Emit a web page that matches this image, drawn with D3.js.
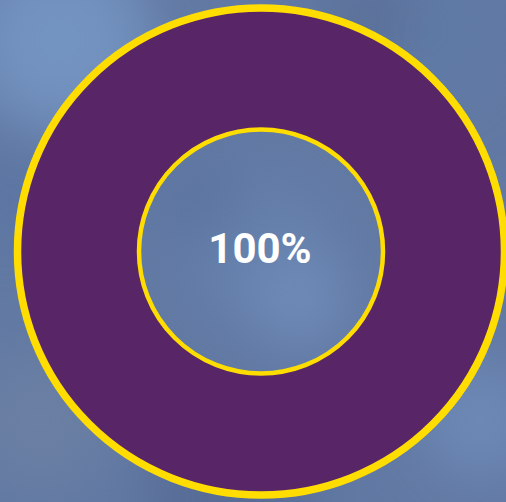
<html>
<head>
<script src="https://cdnjs.cloudflare.com/ajax/libs/d3/7.8.5/d3.min.js"></script>
<style>
  body { margin: 0; overflow: hidden; }
</style>
</head>
<body>
<svg id="chart" width="506" height="502"></svg>
<script>

	// single series, one slice
	var labels = ["Complete"]
	var values = [100]
	var centerLabel = "100%"

	var W = 506, H = 502
	var cx = 261, cy = 251.5
	var outerR = 247, innerR = 122

	var svg = d3.select("#chart")
	var defs = svg.append("defs")

	// blurred blue backdrop
	defs.append("filter").attr("id", "blur")
	  .attr("x", "-50%").attr("y", "-50%").attr("width", "200%").attr("height", "200%")
	  .append("feGaussianBlur").attr("stdDeviation", 28)

	svg.append("rect").attr("width", W).attr("height", H).attr("fill", "#6179a3")
	var bg = svg.append("g").attr("filter", "url(#blur)")
	var blobs = [
		[60, 40, 90, "#7393c0"],
		[10, 200, 50, "#5b76a3"],
		[420, 30, 80, "#5f7aa6"],
		[370, 20, 40, "#5a6e96"],
		[40, 420, 70, "#6a7fa3"],
		[230, 490, 80, "#566c96"],
		[480, 420, 60, "#6d88b6"],
		[260, 250, 80, "#6580ab"],
		[300, 300, 50, "#6e8ab7"],
		[200, 200, 40, "#5c75a0"]
	]
	blobs.forEach(function(b) {
		bg.append("circle").attr("cx", b[0]).attr("cy", b[1]).attr("r", b[2]).attr("fill", b[3])
	})

	var pie = d3.pie().sort(null)
	var arc = d3.arc().innerRadius(innerR).outerRadius(outerR - 3)

	var g = svg.append("g").attr("transform", "translate(" + cx + "," + cy + ")")

	g.selectAll("path.slice")
	  .data(pie(values))
	  .enter().append("path")
	  .attr("class", "slice")
	  .attr("d", arc)
	  .attr("fill", "#582566")

	// yellow rims
	g.append("circle").attr("r", outerR - 3.5)
	  .attr("fill", "none").attr("stroke", "#ffdd00").attr("stroke-width", 7.5)
	g.append("circle").attr("r", innerR)
	  .attr("fill", "none").attr("stroke", "#ffdd00").attr("stroke-width", 4.5)

	g.append("text")
	  .attr("x", -1)
	  .attr("y", 11)
	  .attr("text-anchor", "middle")
	  .attr("fill", "#ffffff")
	  .attr("font-family", "Roboto, sans-serif")
	  .attr("font-weight", "bold")
	  .attr("font-size", 42)
	  .text(centerLabel)

</script>
</body>
</html>
